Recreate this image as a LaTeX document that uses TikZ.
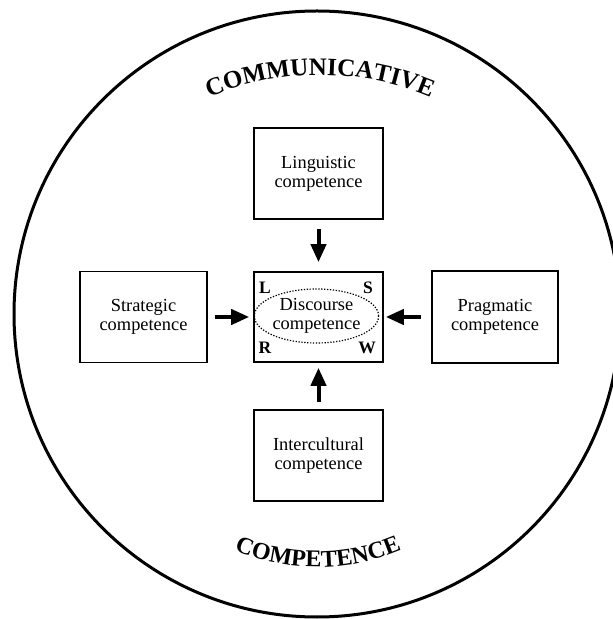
\documentclass[tikz,border=0pt]{standalone}
\usepackage{fontspec}
\setmainfont{Liberation Serif}
\usetikzlibrary{arrows.meta,shapes.geometric,decorations.text}
\tikzset{
  compbox/.style={draw, line width=1.6pt, minimum width=129pt, minimum height=91pt,
    inner sep=0pt, align=center, font=\fontsize{18.4}{18.8}\selectfont},
  arr/.style={line width=4pt, -{Triangle[length=18pt,width=15pt]}},
  corner/.style={inner sep=0pt, font=\fontsize{17.5}{18}\selectfont\bfseries},
  big/.style={line width=3pt}
}
\begin{document}
\begin{tikzpicture}[x=1pt,y=1pt]
\useasboundingbox (0,0) rectangle (613,619);
\draw[big] (317,305) circle[radius=303];
\node[compbox] (ling) at (318.5,445.5) {Linguistic\\competence};
\node[compbox, minimum height=90pt] (disc) at (318.5,302) {};
\node[compbox] (inter) at (318.5,163.5) {Intercultural\\competence};
\node[compbox, minimum width=127pt] (strat) at (143.5,302) {Strategic\\competence};
\node[compbox, minimum width=126pt, minimum height=92pt] (prag) at (495,302) {Pragmatic\\competence};
\node[ellipse, draw, line width=1.2pt, dash pattern=on 1.3pt off 1.6pt,
      minimum width=109pt, minimum height=54pt, inner sep=0pt, align=center,
      font=\fontsize{18.4}{18.4}\selectfont] (dtext) at (316.5,303) {Discourse\\competence};
\node[corner] (cl) at (265,331) {L};
\node[corner] (cs) at (368,331) {S};
\node[corner] (cr) at (265,271) {R};
\node[corner] (cw) at (367,271) {W};
\draw[arr, shorten <=9pt, shorten >=9pt] (ling) -- (disc);
\draw[arr, shorten <=7pt, shorten >=4pt] (strat) -- (disc);
\draw[arr, shorten <=10pt, shorten >=2pt] (prag) -- (disc);
\draw[arr, shorten <=7pt, shorten >=5pt] (inter) -- (disc);
\path[decorate, decoration={text along path, text align=center,
  text={|\fontsize{25}{25}\selectfont\bfseries|COMMUNICATIVE}}]
  (156.5,492.5) arc[start angle=125, end angle=55, radius=285];
\path[decorate, decoration={text along path, text align=center,
  text={|\fontsize{24}{24}\selectfont\bfseries|COMPETENCE}}]
  (210.5,80.8) arc[start angle=240, end angle=300, radius=215];
\end{tikzpicture}
\end{document}
